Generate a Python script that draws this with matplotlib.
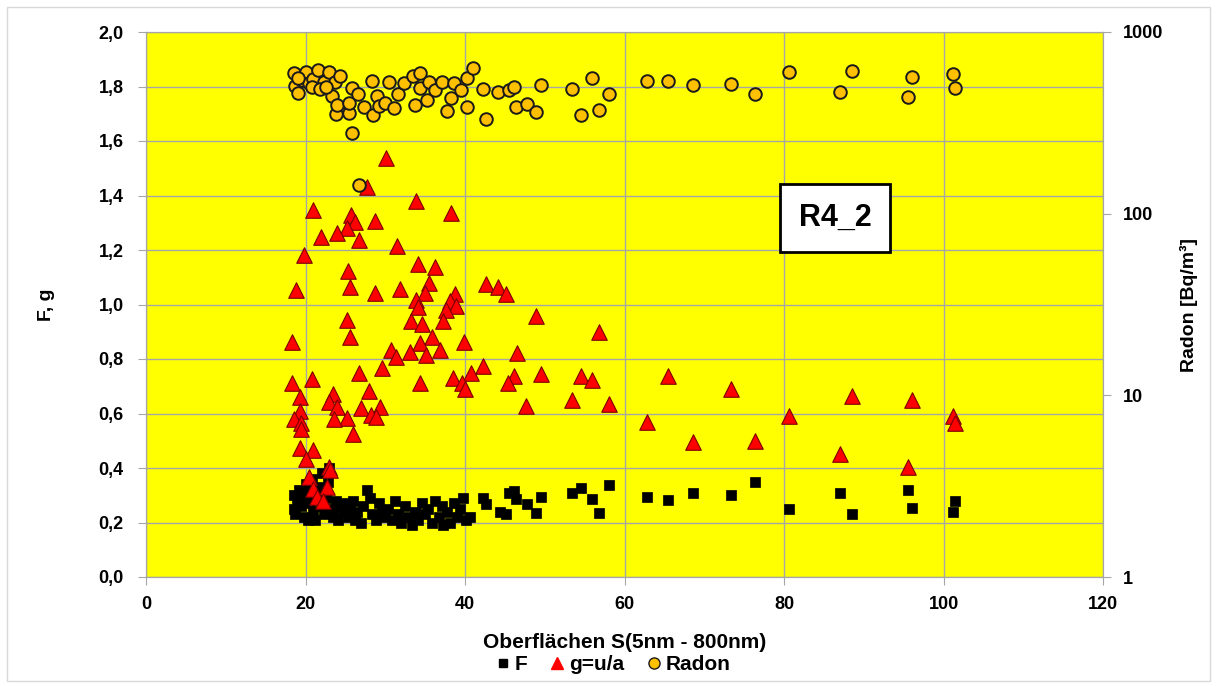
import matplotlib
matplotlib.use("Agg")
import matplotlib.pyplot as plt
from matplotlib.lines import Line2D
from matplotlib.ticker import FuncFormatter, FixedLocator, NullLocator
from matplotlib.patches import Rectangle

plt.rcParams['font.family'] = ['Liberation Sans', 'DejaVu Sans']
plt.rcParams['font.weight'] = 'bold'

# ---------------- data ----------------
# F (black squares)
s_F = [18.5, 18.6, 18.7, 18.9, 19.2, 19.4, 19.6, 19.8, 20.0, 20.2, 20.3,
       20.6, 20.8, 21.0, 21.2, 21.4, 21.6, 21.9, 22.1, 22.3, 22.6, 22.8, 23.0,
       23.3, 23.5, 23.8, 24.1, 24.4, 24.7, 25.0,
       25.3, 25.6, 25.9, 26.2, 26.5, 26.9, 27.2, 27.7, 28.1, 28.4, 28.8, 29.2,
       29.6, 30.0,
       30.4, 30.8, 31.2, 31.6, 32.0, 32.5, 32.9, 33.3, 33.7, 34.1, 34.6, 35.0,
       35.4,
       35.8, 36.2, 36.7, 37.1, 37.3, 37.8, 38.1, 38.6, 39.0, 39.4, 39.7, 40.1,
       40.6,
       42.3, 42.6, 44.4, 45.1, 45.5, 46.1, 46.4, 47.8, 48.9, 49.5, 53.4, 54.6,
       55.9, 56.8, 58.0, 62.8, 65.4, 68.6,
       73.3, 76.4, 80.6, 87.0, 88.5, 95.6, 96.1, 101.2, 101.5]
F = [0.30, 0.25, 0.23, 0.28, 0.32, 0.26, 0.29, 0.22, 0.34, 0.31, 0.21,
     0.27, 0.36, 0.24, 0.21, 0.30, 0.33, 0.26, 0.38, 0.23, 0.29, 0.35, 0.40,
     0.25, 0.22, 0.28, 0.21, 0.26, 0.24, 0.27,
     0.22, 0.25, 0.28, 0.21, 0.24, 0.20, 0.26, 0.32, 0.29, 0.23, 0.21, 0.27,
     0.24, 0.22,
     0.25, 0.21, 0.28, 0.23, 0.20, 0.26, 0.22, 0.19, 0.24, 0.21, 0.27, 0.23,
     0.25,
     0.20, 0.28, 0.22, 0.26, 0.19, 0.24, 0.20, 0.27, 0.22, 0.25, 0.29, 0.21,
     0.22,
     0.291, 0.268, 0.238, 0.232, 0.310, 0.314, 0.287, 0.268, 0.234, 0.295,
     0.310, 0.327, 0.287, 0.234, 0.337, 0.295, 0.284, 0.308,
     0.300, 0.350, 0.249, 0.310, 0.232, 0.320, 0.255, 0.238, 0.278]

# g = u/a (red triangles)
s_g = [30.1, 27.7, 33.9, 21.0, 38.2, 25.7, 26.2, 28.7, 25.2, 23.9, 21.9, 26.7,
       31.5, 19.8, 34.1, 36.3, 25.3, 35.5, 18.8, 25.6, 28.7, 31.9, 35.0, 38.8,
       38.1, 38.9, 33.9, 34.1, 37.6, 25.2, 33.2, 34.6, 37.2, 18.3, 25.6, 35.8,
       39.9, 34.4, 30.7, 31.3, 33.1, 36.9, 35.1, 38.5, 40.8, 26.7, 29.6, 20.8,
       18.3, 34.4, 39.6, 40.0, 28.0, 23.4, 22.9, 23.9, 19.3, 27.0, 29.3, 28.2,
       28.9, 25.2, 23.6, 19.3, 18.5, 19.4, 26.0, 19.4, 19.3, 21.0, 20.1, 22.9,
       23.1, 20.5, 22.7, 21.0, 21.5, 22.2,
       42.6, 44.2, 45.1, 48.9, 56.8, 46.5, 42.3, 46.1, 45.4, 49.5, 54.5, 55.9,
       53.4, 47.7, 58.0, 65.4, 62.8, 68.6,
       73.3, 76.4, 80.6, 87.0, 88.5, 95.6, 96.1, 101.2, 101.5]
g = [1.536, 1.432, 1.380, 1.347, 1.337, 1.328, 1.304, 1.308, 1.280, 1.264,
     1.247, 1.237, 1.215, 1.182, 1.148, 1.137, 1.124, 1.080, 1.053, 1.065,
     1.043, 1.056, 1.041, 1.039, 1.013, 0.994, 1.017, 0.992, 0.980, 0.943,
     0.939, 0.927, 0.939, 0.864, 0.882, 0.882, 0.864, 0.860, 0.833, 0.806,
     0.827, 0.833, 0.815, 0.731, 0.750, 0.747, 0.766, 0.728, 0.711, 0.711,
     0.713, 0.689, 0.684, 0.672, 0.643, 0.625, 0.659, 0.619, 0.625, 0.594,
     0.586, 0.582, 0.579, 0.610, 0.579, 0.566, 0.525, 0.542, 0.472, 0.466,
     0.433, 0.405, 0.393, 0.368, 0.329, 0.322, 0.295, 0.280,
     1.077, 1.063, 1.040, 0.956, 0.900, 0.821, 0.773, 0.739, 0.713, 0.745,
     0.739, 0.723, 0.651, 0.627, 0.635, 0.739, 0.568, 0.496,
     0.690, 0.500, 0.592, 0.451, 0.664, 0.402, 0.651, 0.592, 0.566]

# Radon [Bq/m³] (orange circles, right log axis)
s_radon = [18.5, 18.7, 19.1, 19.6, 20.1, 20.4, 21.0, 21.6, 22.3, 22.9, 23.3,
           23.7, 23.8, 24.0, 24.3, 25.4, 25.8, 25.4, 25.8, 26.6, 27.3, 28.3,
           28.5, 29.0, 29.2, 30.0, 30.5, 31.1, 31.6, 32.3, 33.5, 33.7, 34.4,
           34.3, 35.2, 35.5, 36.3, 37.1, 37.8, 38.2, 38.6, 39.5, 40.2, 40.3,
           41.0, 19.0, 20.8, 21.8, 22.6, 26.7,
           42.3, 42.6, 44.2, 45.5, 46.1, 46.4, 47.8, 48.9, 49.5, 53.4, 54.6,
           55.9, 56.8, 58.0, 62.8, 65.4, 68.6,
           73.3, 76.4, 80.6, 87.0, 88.5, 95.6, 96.1, 101.2, 101.5]
radon = [591, 506, 463, 545, 602, 526, 550, 619, 533, 600, 443,
         533, 354, 398, 573, 358, 279, 406, 491, 456, 387, 539,
         349, 443, 390, 406, 533, 382, 456, 522, 573, 394, 598,
         491, 425, 533, 481, 533, 366, 434, 522, 481, 385, 556,
         632, 556, 501, 484, 501, 143,
         484, 333, 468, 479, 501, 387, 399, 365, 508, 484, 349,
         556, 372, 453, 535, 535, 513,
         519, 457, 600, 470, 608, 439, 568, 586, 491]

x_ticks = [0, 20, 40, 60, 80, 100, 120]
y_ticks = [0.0, 0.2, 0.4, 0.6, 0.8, 1.0, 1.2, 1.4, 1.6, 1.8, 2.0]
r_ticks = [1, 10, 100, 1000]

# ---------------- figure ----------------
W, H = 1217, 686
fig = plt.figure(figsize=(W / 100, H / 100), dpi=100)
fig.patches.append(Rectangle((0.006, 0.008), 0.988, 0.982, transform=fig.transFigure,
                             fill=False, edgecolor='#d9d9d9', linewidth=1))

L, R, T, B = 146, 1103, 32, 577
ax = fig.add_axes([L / W, 1 - B / H, (R - L) / W, (B - T) / H])
ax.set_facecolor('#FFFF00')
ax.set_xlim(0, 120)
ax.set_ylim(0, 2.0)
ax.xaxis.set_major_locator(FixedLocator(x_ticks))
ax.yaxis.set_major_locator(FixedLocator(y_ticks))
ax.grid(True, color='#a6a6a6', linewidth=1.0)
ax.set_axisbelow(True)
ax.yaxis.set_major_formatter(FuncFormatter(lambda v, p: f"{v:.1f}".replace('.', ',')))
for s in ax.spines.values():
    s.set_color('#a6a6a6')
ax.tick_params(axis='both', colors='#a6a6a6', labelcolor='black', labelsize=13,
               length=6, direction='out')
ax.tick_params(axis='y', pad=10)
ax.tick_params(axis='x', pad=8)
for lab in ax.get_xticklabels() + ax.get_yticklabels():
    lab.set_fontweight('bold')

ax.scatter(s_F, F, marker='s', s=44, color='black', edgecolors='black',
           linewidths=0.5, zorder=3)
ax.scatter(s_g, g, marker='^', s=125, color='#FF0000', edgecolors='#7a0000',
           linewidths=0.8, zorder=4)

ax2 = ax.twinx()
ax2.set_yscale('log')
ax2.set_ylim(1, 1000)
ax2.yaxis.set_major_locator(FixedLocator(r_ticks))
ax2.yaxis.set_minor_locator(NullLocator())
ax2.yaxis.set_major_formatter(FuncFormatter(lambda v, p: f"{int(v)}"))
for s in ax2.spines.values():
    s.set_color('#a6a6a6')
ax2.tick_params(axis='y', colors='#a6a6a6', labelcolor='black', labelsize=13,
                length=6, direction='out', pad=8)
for lab in ax2.get_yticklabels():
    lab.set_fontweight('bold')
ax2.scatter(s_radon, radon, marker='o', s=82, color='#FFC000', edgecolors='#1a1a1a',
            linewidths=1.4, zorder=5)

ax.set_xlabel('Oberflächen S(5nm - 800nm)', fontsize=15, fontweight='bold')
ax.xaxis.set_label_coords(0.5, (B - 633) / (B - T))
ax.set_ylabel('F, g', fontsize=14, fontweight='bold')
ax.yaxis.set_label_coords((55 - L) / (R - L), 0.5)
ax2.set_ylabel('Radon [Bq/m³]', fontsize=14, fontweight='bold')
ax2.yaxis.set_label_coords((1180 - L) / (R - L), 0.5)

ax.text(86.4, 1.317, 'R4_2', fontsize=22, fontweight='bold', ha='center', va='center',
        zorder=6, bbox=dict(boxstyle='square,pad=0.62', facecolor='white',
                            edgecolor='black', linewidth=2))

handles = [
    Line2D([], [], marker='s', linestyle='none', color='black', markersize=6),
    Line2D([], [], marker='^', linestyle='none', color='#FF0000', markersize=9,
           markeredgecolor='#FF0000'),
    Line2D([], [], marker='o', linestyle='none', color='#FFC000', markersize=8,
           markeredgecolor='#1a1a1a'),
]
fig.legend(handles, ['F', 'g=u/a', 'Radon'], loc='center', bbox_to_anchor=(0.503, 1 - 665 / H),
           ncol=3, frameon=False, prop={'size': 15, 'weight': 'bold'},
           handletextpad=0.1, columnspacing=1.0, handlelength=0.9)

fig.savefig('out.png', dpi=100)
